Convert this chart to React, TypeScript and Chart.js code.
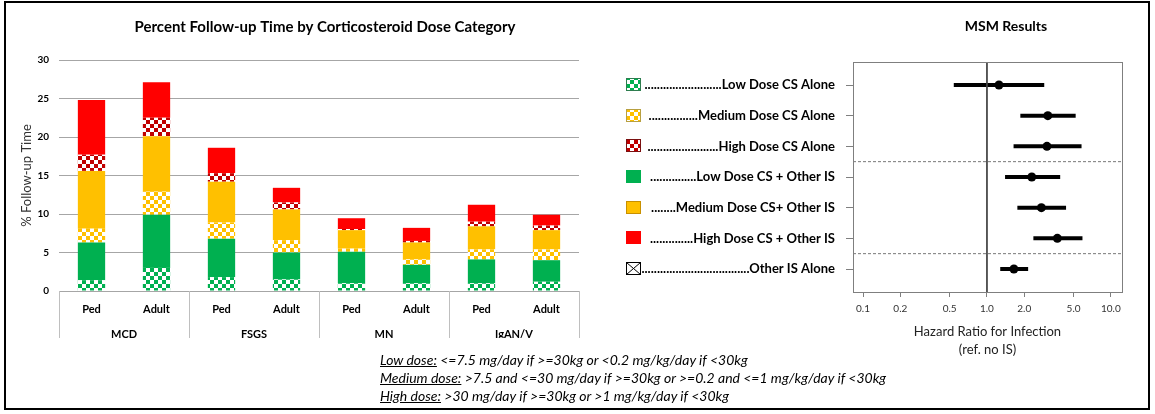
import React, { useEffect, useRef } from "react";
import { Chart, registerables } from "chart.js";
Chart.register(...registerables);

// ---------- Bar chart data ----------
const subgroups = ["Ped", "Adult", "Ped", "Adult", "Ped", "Adult", "Ped", "Adult"];
const diseases = ["MCD", "FSGS", "MN", "IgAN/V"];
const lowAlone = [1.4, 3.0, 1.8, 1.5, 1.0, 1.0, 1.0, 1.2];
const lowOther = [4.9, 6.9, 5.0, 3.5, 4.1, 2.4, 3.1, 2.8];
const medAlone = [1.8, 3.0, 2.1, 1.6, 0.4, 0.7, 1.3, 1.4];
const medOther = [7.5, 7.2, 5.3, 4.0, 2.4, 2.2, 3.0, 2.5];
const highAlone = [2.1, 2.4, 1.1, 0.9, 0.15, 0.2, 0.6, 0.6];
const highOther = [7.1, 4.6, 3.3, 1.9, 1.4, 1.7, 2.2, 1.4];

// ---------- Forest plot data ----------
const msmLabels = [
  ".........................Low Dose CS Alone",
  "................Medium Dose CS Alone",
  ".......................High Dose CS Alone",
  "...............Low Dose CS + Other IS",
  "........Medium Dose CS+ Other IS",
  "..............High Dose CS + Other IS",
  "...................................Other IS Alone",
];
const hr = [1.25, 3.1, 3.05, 2.3, 2.75, 3.7, 1.65];
const hrLow = [0.54, 1.86, 1.64, 1.4, 1.76, 2.37, 1.28];
const hrHigh = [2.9, 5.2, 5.8, 3.9, 4.35, 5.9, 2.15];
const hrTicks = [0.1, 0.2, 0.5, 1, 2, 5, 10];
const hrTickLabels = ["0.1", "0.2", "0.5", "1.0", "2.0", "5.0", "10.0"];
const groupBreaks = [3.5, 6.5];
const HR_MIN = 0.083;
const HR_MAX = 12.3;

const GREEN = "#00b050";
const YELLOW = "#ffc000";
const RED = "#ff0000";
const DARKRED = "#c00000";

function checker(color: string, cell = 4): CanvasPattern {
  const c = document.createElement("canvas");
  c.width = c.height = cell * 2;
  const g = c.getContext("2d")!;
  g.fillStyle = "#ffffff";
  g.fillRect(0, 0, cell * 2, cell * 2);
  g.fillStyle = color;
  g.fillRect(0, 0, cell, cell);
  g.fillRect(cell, cell, cell, cell);
  return g.createPattern(c, "repeat")!;
}

const FONT = "Lato";

export default function App() {
  const barRef = useRef<HTMLCanvasElement>(null);
  const forestRef = useRef<HTMLCanvasElement>(null);

  useEffect(() => {
    const pGreen = checker(GREEN);
    const pYellow = checker(YELLOW);
    const pRed = checker(DARKRED);

    const separators = {
      id: "separators",
      afterDraw(chart: any) {
        const x = chart.scales.x;
        const x2 = chart.scales.x2;
        const { left, right, bottom } = chart.chartArea;
        const xs = [left];
        for (let i = 2; i < subgroups.length; i += 2) {
          xs.push((x.getPixelForValue(i - 1) + x.getPixelForValue(i)) / 2);
        }
        xs.push(right);
        const ctx = chart.ctx;
        ctx.save();
        ctx.strokeStyle = "#bfbfbf";
        ctx.lineWidth = 1;
        xs.forEach((px) => {
          const xx = Math.round(px) + 0.5;
          ctx.beginPath();
          ctx.moveTo(xx, bottom);
          ctx.lineTo(xx, x2.bottom);
          ctx.stroke();
        });
        ctx.restore();
      },
    };

    const mk = (label: string, data: number[], bg: any) => ({
      label,
      data,
      backgroundColor: bg,
      borderWidth: 0,
      categoryPercentage: 1,
      barPercentage: 0.42,
    });

    const bar = new Chart(barRef.current!, {
      type: "bar",
      data: {
        labels: subgroups,
        datasets: [
          mk("Low Dose CS Alone", lowAlone, pGreen),
          mk("Low Dose CS + Other IS", lowOther, GREEN),
          mk("Medium Dose CS Alone", medAlone, pYellow),
          mk("Medium Dose CS + Other IS", medOther, YELLOW),
          mk("High Dose CS Alone", highAlone, pRed),
          mk("High Dose CS + Other IS", highOther, RED),
        ],
      },
      options: {
        responsive: false,
        animation: false,
        layout: { padding: 0 },
        plugins: {
          legend: { display: false },
          tooltip: { enabled: false },
          title: {
            display: true,
            text: "Percent Follow-up Time by Corticosteroid Dose Category",
            color: "#000",
            font: { family: FONT, size: 15, weight: "bold" },
            padding: { top: 14, bottom: 24 },
          },
        },
        scales: {
          x: {
            stacked: true,
            weight: 0,
            grid: { display: false },
            border: { display: false },
            ticks: { color: "#000", font: { family: FONT, size: 11, weight: "bold" }, padding: 4 },
            afterFit: (s: any) => { s.height = 27; },
          },
          x2: {
            type: "category",
            labels: diseases,
            position: "bottom",
            weight: 1,
            offset: true,
            grid: { display: false },
            border: { display: false },
            ticks: { color: "#000", font: { family: FONT, size: 11, weight: "bold" }, padding: 2 },
            afterFit: (s: any) => { s.height = 20; },
          },
          y: {
            stacked: true,
            min: 0,
            max: 30,
            ticks: { stepSize: 5, color: "#000", font: { family: FONT, size: 10, weight: "bold" }, padding: 10 },
            grid: { color: "#a6a6a6", drawTicks: false },
            border: { display: false },
            title: {
              display: true,
              text: "% Follow-up Time",
              color: "#333",
              font: { family: FONT, size: 13 },
              padding: { top: 13, bottom: 0 },
            },
            afterFit: (s: any) => { s.width = 53; },
          },
          yRight: {
            position: "right",
            display: true,
            grid: { display: false },
            border: { display: false },
            ticks: { display: false },
            afterFit: (s: any) => { s.width = 65; },
          },
        },
      },
      plugins: [separators],
    });

    const boxPlugin = {
      id: "box",
      afterDraw(chart: any) {
        const { left, right, top, bottom } = chart.chartArea;
        const ctx = chart.ctx;
        ctx.save();
        ctx.strokeStyle = "#7f7f7f";
        ctx.lineWidth = 1;
        ctx.strokeRect(Math.round(left) + 0.5, Math.round(top) + 0.5, Math.round(right - left), Math.round(bottom - top));
        ctx.restore();
      },
    };

    const swatchPlugin = {
      id: "swatches",
      afterDraw(chart: any) {
        const ys = chart.scales.y;
        const ctx = chart.ctx;
        const fills: any[] = [pGreen, pYellow, pRed, GREEN, YELLOW, RED, "#ffffff"];
        const borders = ["#2e7d4f", "#b8a040", "#7a1010", GREEN, "#c89000", RED, "#000000"];
        ctx.save();
        for (let i = 0; i < msmLabels.length; i++) {
          const yc = Math.round(ys.getPixelForValue(i + 1));
          const x0 = 16, w = 15, h = 13;
          const y0 = yc - 7;
          ctx.fillStyle = fills[i];
          ctx.fillRect(x0, y0, w, h);
          ctx.strokeStyle = borders[i];
          ctx.lineWidth = 1;
          ctx.strokeRect(x0 + 0.5, y0 + 0.5, w - 1, h - 1);
          if (i === msmLabels.length - 1) {
            ctx.beginPath();
            ctx.moveTo(x0 + 0.5, y0 + 0.5);
            ctx.lineTo(x0 + w - 0.5, y0 + h - 0.5);
            ctx.moveTo(x0 + w - 0.5, y0 + 0.5);
            ctx.lineTo(x0 + 0.5, y0 + h - 0.5);
            ctx.stroke();
          }
        }
        ctx.restore();
      },
    };

    const ciSets = hr.map((_, i) => ({
      data: [{ x: hrLow[i], y: i + 1 }, { x: hrHigh[i], y: i + 1 }],
      showLine: true,
      borderColor: "#000",
      borderWidth: 4,
      pointRadius: 0,
    }));

    const forest = new Chart(forestRef.current!, {
      type: "scatter",
      data: {
        datasets: [
          {
            data: [{ x: 1, y: 0.25 }, { x: 1, y: 7.75 }],
            showLine: true,
            borderColor: "#444",
            borderWidth: 1,
            pointRadius: 0,
          },
          ...groupBreaks.map((b) => ({
            data: [{ x: HR_MIN, y: b }, { x: HR_MAX, y: b }],
            showLine: true,
            borderColor: "#777",
            borderWidth: 1,
            borderDash: [3, 2],
            pointRadius: 0,
          })),
          ...ciSets,
          {
            data: hr.map((v, i) => ({ x: v, y: i + 1 })),
            pointRadius: 4.5,
            pointBackgroundColor: "#000",
            pointBorderColor: "#000",
            borderWidth: 0,
          },
        ] as any,
      },
      options: {
        responsive: false,
        animation: false,
        layout: { padding: { left: 0, right: 26, top: 58, bottom: 0 } },
        plugins: { legend: { display: false }, tooltip: { enabled: false } },
        scales: {
          x: {
            type: "logarithmic",
            min: HR_MIN,
            max: HR_MAX,
            afterBuildTicks: (s: any) => { s.ticks = hrTicks.map((v) => ({ value: v, major: true })); },
            ticks: {
              autoSkip: false,
              maxRotation: 0,
              color: "#333",
              font: { family: FONT, size: 10 },
              padding: 6,
              callback: (v: any) => { const k = hrTicks.indexOf(Number(v)); return k >= 0 ? hrTickLabels[k] : ""; },
            },
            grid: { drawOnChartArea: false, tickLength: 5, color: "#7f7f7f" },
            border: { display: false },
            title: {
              display: true,
              text: ["Hazard Ratio for Infection", "(ref. no IS)"],
              color: "#222",
              font: { family: FONT, size: 13, lineHeight: "18px" },
              padding: { top: 0, bottom: 3 },
            },
            afterFit: (s: any) => { s.height = 70; },
          },
          y: {
            type: "linear",
            reverse: true,
            min: 0.25,
            max: 7.75,
            afterBuildTicks: (s: any) => { s.ticks = msmLabels.map((_, i) => ({ value: i + 1 })); },
            ticks: {
              autoSkip: false,
              color: "#000",
              font: { family: FONT, size: 13, weight: "bold" },
              padding: 11,
              callback: (v: any) => msmLabels[Number(v) - 1] ?? "",
            },
            grid: { drawOnChartArea: false, tickLength: 7, color: "#7f7f7f" },
            border: { display: false },
            afterFit: (s: any) => { s.width = 243; },
          },
        },
      },
      plugins: [boxPlugin, swatchPlugin],
    });

    return () => {
      bar.destroy();
      forest.destroy();
    };
  }, []);

  return (
    <div style={{ position: "fixed", left: 0, top: 0, width: 1155, height: 414, background: "#fff", overflow: "hidden", fontFamily: FONT }}>
      <div style={{ position: "absolute", left: 4, top: 1, width: 1146, height: 409, border: "2px solid #000", boxSizing: "border-box" }} />
      <canvas ref={barRef} width={638} height={334} style={{ position: "absolute", left: 6, top: 4 }} />
      <canvas ref={forestRef} width={538} height={358} style={{ position: "absolute", left: 610, top: 4 }} />
      <div style={{ position: "absolute", left: 946, top: 17, width: 120, textAlign: "center", fontWeight: "bold", fontSize: 14, lineHeight: "18px", color: "#000" }}>MSM Results</div>
      <div style={{ position: "absolute", left: 380, top: 351, fontStyle: "italic", fontSize: 14, lineHeight: "18px", color: "#000", whiteSpace: "nowrap" }}>
        <div><u>Low dose:</u> &lt;=7.5 mg/day if &gt;=30kg or &lt;0.2 mg/kg/day if &lt;30kg</div>
        <div><u>Medium dose:</u> &gt;7.5 and &lt;=30 mg/day if &gt;=30kg or &gt;=0.2 and &lt;=1 mg/kg/day if &lt;30kg</div>
        <div><u>High dose:</u> &gt;30 mg/day if &gt;=30kg or &gt;1 mg/kg/day if &lt;30kg</div>
      </div>
    </div>
  );
}
